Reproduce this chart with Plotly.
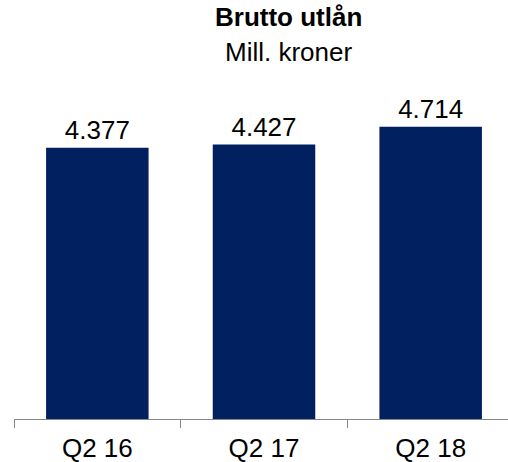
import plotly.graph_objects as go

categories = ["Q2 16", "Q2 17", "Q2 18"]
values = [4377, 4427, 4714]

font_family = "Liberation Sans, Arial, sans-serif"

# plot area in pixels
left, top, bottom = 13.6, 109.1, 43
plot_w = 508 - left
plot_h = 462 - top - bottom
title_x = (288 - left) / plot_w

fig = go.Figure(
    go.Bar(
        x=categories,
        y=values,
        width=0.615,
        marker={"color": "#002060", "line": {"width": 0}},
        texttemplate="%{y:,}",
        textposition="outside",
        textfont={"size": 26, "color": "#000000", "family": font_family},
        cliponaxis=False,
    )
)

fig.update_layout(
    width=508, height=462,
    margin={"l": left, "r": 0, "t": top, "b": bottom, "pad": 0},
    paper_bgcolor="white",
    plot_bgcolor="white",
    separators=",.",
    showlegend=False,
    font={"family": font_family, "color": "#000000"},
    xaxis={
        "range": [-0.5, 2.464],
        "showline": True, "linecolor": "#868686", "linewidth": 1,
        "ticks": "outside", "tickson": "boundaries", "ticklen": 8, "tickcolor": "#868686",
        "tickfont": {"size": 26}, "ticklabelstandoff": 6,
        "showgrid": False,
    },
    yaxis={"range": [0, 5000], "visible": False, "showgrid": False},
    annotations=[
        {"text": "<b>Brutto utlån</b>", "x": title_x, "xref": "paper", "yref": "paper",
         "y": 1 + (top - 17.5) / plot_h, "yanchor": "middle",
         "showarrow": False, "font": {"size": 26}},
        {"text": "Mill. kroner", "x": title_x, "xref": "paper", "yref": "paper",
         "y": 1 + (top - 52) / plot_h, "yanchor": "middle",
         "showarrow": False, "font": {"size": 26}},
    ],
)

fig.write_html("out.html", config={"displayModeBar": False},
               post_script="document.body.style.margin='0';")
